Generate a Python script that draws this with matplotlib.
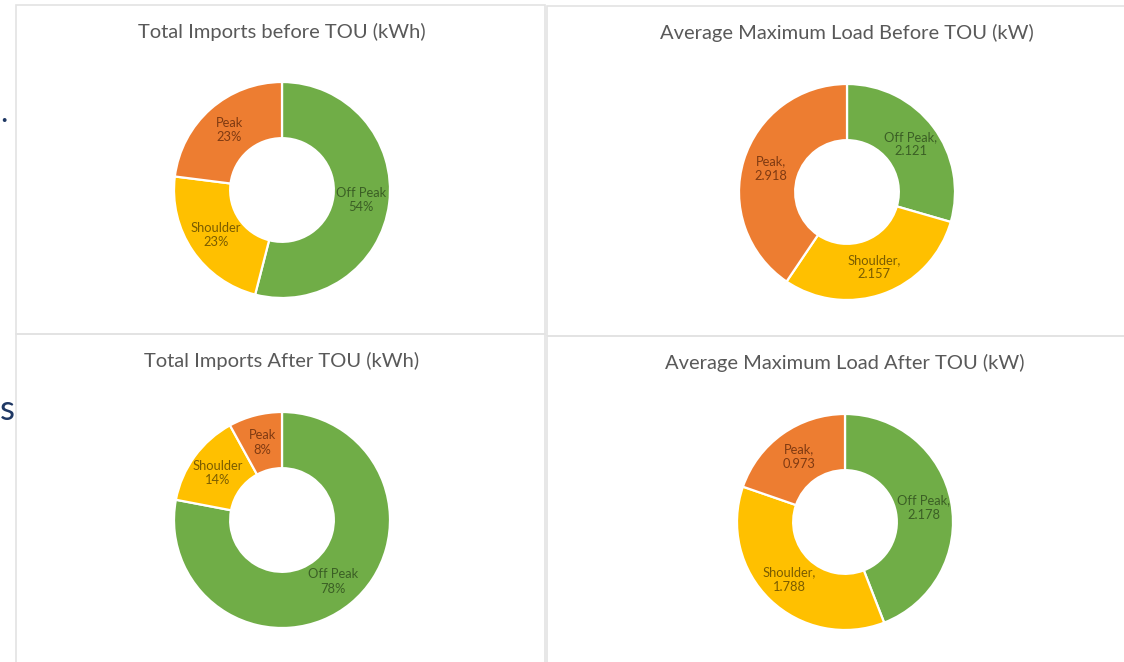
import numpy as np
import matplotlib.pyplot as plt
from matplotlib.patches import Rectangle

plt.rcParams['font.family'] = ['Lato', 'DejaVu Sans']

W, H = 1124, 662

# tariff periods, in the order the slices run clockwise from 12 o'clock
periods = ['Off Peak', 'Shoulder', 'Peak']
colors = ['#70AD47', '#FFC000', '#ED7D31']
text_colors = ['#3B5F25', '#7A5C00', '#7F3A12']

imports_before = [54, 23, 23]
imports_after = [78, 14, 8]
load_before = [2.121, 2.157, 2.918]
load_after = [2.178, 1.788, 0.973]

titles = ['Total Imports before TOU (kWh)',
          'Average Maximum Load Before TOU (kW)',
          'Total Imports After TOU (kWh)',
          'Average Maximum Load After TOU (kW)']

# panel boxes in pixels: left, top, right, bottom
panels = [(16, 5, 545, 334), (547, 6, 1130, 336),
          (16, 334, 545, 670), (547, 336, 1130, 670)]
# donut centres and outer radius in pixels
centres = [(282, 190), (847, 192), (282, 520), (845, 522)]
R = 108


def fx(x):
    return x / W


def fy(y):
    return 1 - y / H


def donut(ax, values, fmt):
    wedges, _ = ax.pie(values, colors=colors, startangle=90, counterclock=False,
                       radius=1.0, wedgeprops=dict(width=0.52, edgecolor='white', linewidth=1.6))
    for w, name, v, tc in zip(wedges, periods, values, text_colors):
        ang = np.deg2rad((w.theta1 + w.theta2) / 2)
        r = 0.74
        ax.text(r * np.cos(ang), r * np.sin(ang), fmt(name, v), ha='center', va='center',
                fontsize=9.3, color=tc, linespacing=1.25)
    ax.set_xlim(-1, 1)
    ax.set_ylim(-1, 1)
    ax.set_aspect('equal')
    ax.axis('off')


fig = plt.figure(figsize=(W / 100, H / 100), dpi=100)
fig.patch.set_facecolor('white')

for (l, t, r, b) in panels:
    fig.patches.append(Rectangle((fx(l), fy(b)), fx(r - l), (b - t) / H, transform=fig.transFigure,
                                 fill=False, edgecolor='#E3E3E3', linewidth=1.2))

data = [(imports_before, lambda n, v: f'{n}\n{v}%'),
        (load_before, lambda n, v: f'{n},\n{v:.3f}'),
        (imports_after, lambda n, v: f'{n}\n{v}%'),
        (load_after, lambda n, v: f'{n},\n{v:.3f}')]

for (vals, fmt), (cx, cy), title, (l, t, r, b) in zip(data, centres, titles, panels):
    ax = fig.add_axes([fx(cx - R), fy(cy + R), 2 * R / W, 2 * R / H])
    donut(ax, vals, fmt)
    fig.text(fx(cx), fy(t + 27), title, ha='center', va='center', fontsize=14.5, color='#595959')

# slide text peeking out behind the charts
fig.text(fx(0), fy(113), '.', ha='left', va='center', fontsize=22, color='#1F3864')
fig.text(fx(0), fy(410), 's', ha='left', va='center', fontsize=25, color='#1F3864')

fig.savefig('out.png', dpi=100, facecolor='white')
